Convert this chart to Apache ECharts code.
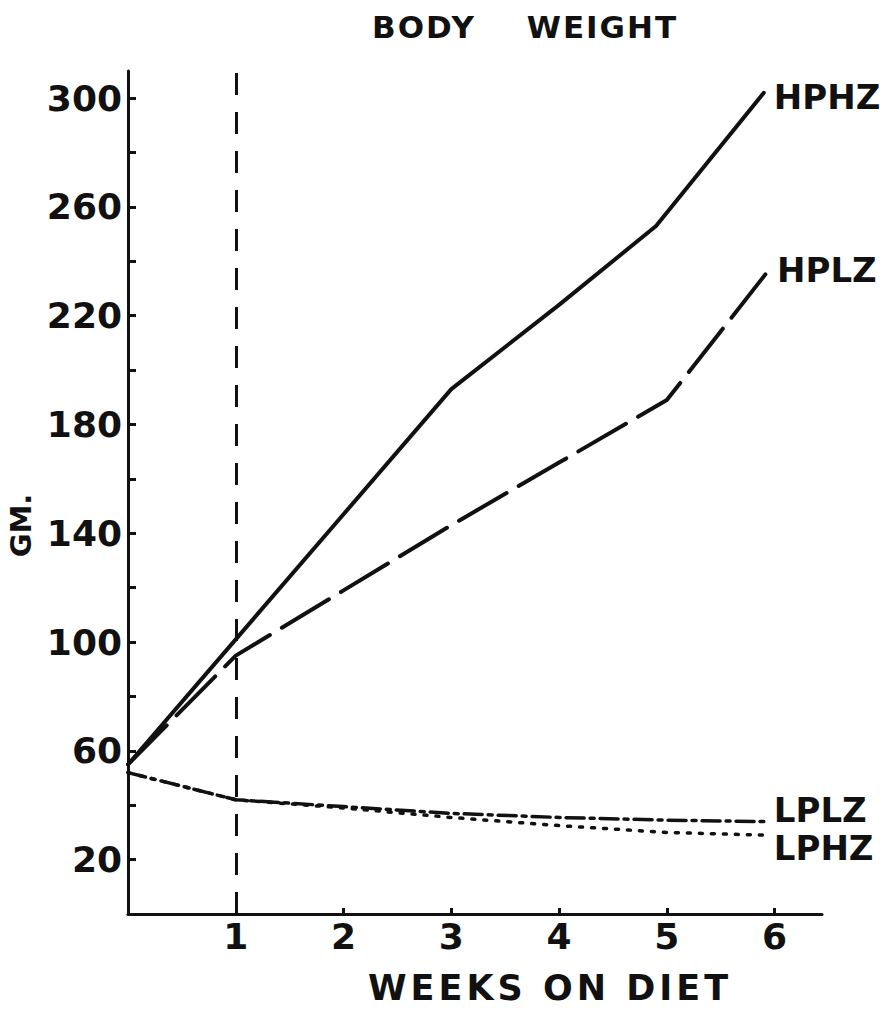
<!DOCTYPE html>
<html>
<head>
<meta charset="utf-8">
<title>Body weight</title>
<script src="https://cdn.jsdelivr.net/npm/echarts@6/dist/echarts.min.js"></script>
<style>
    html, body { margin: 0; padding: 0; background: #fff; }
    #chart { width: 896px; height: 1011px; }
    /* wide lettering of the hand drawn labels */
    #chart text[style*="35px"] { letter-spacing: 4px; }
    #chart text[style*="31px"] { word-spacing: 38px; letter-spacing: 2px; }
</style>
</head>
<body>
<div id="chart"></div>
<script>
// weeks on diet / grams
let hphzWeeks = [0, 1, 2, 3, 4, 4.9, 5.9];
let hphzGm = [55, 101, 147, 193, 224, 253, 302];

let hplzWeeks = [0, 1, 2, 3, 4, 5, 5.93];
let hplzGm = [55, 95, 119, 143, 166, 189, 236];

let lplzWeeks = [0, 1, 2, 3, 4, 5, 5.9];
let lplzGm = [52, 42, 39.5, 37, 35.5, 34.5, 34];

let lphzWeeks = [0, 1, 2, 3, 4, 5, 5.9];
let lphzGm = [52, 42, 39, 35.5, 32.5, 30, 29];

// axis ticks
let weekTicks = [1, 2, 3, 4, 5, 6];
let gmTicks = [20, 40, 60, 80, 100, 120, 140, 160, 180, 200, 220, 240, 260, 280, 300];
let gmLabels = [20, 60, 100, 140, 180, 220, 260, 300];

let ink = '#111';
let font = 'DejaVu Sans';

// one drawn line
let line = (name, weeks, gm, dash, width, labelDy) => {
    return {
        name: name,
        type: 'line',
        showSymbol: false,
        symbol: 'none',
        data: weeks.map((w, i) => [w, gm[i]]),
        lineStyle: { color: ink, width: width, type: dash, cap: 'round' },
        endLabel: {
            show: true,
            formatter: '{a}',
            distance: 10,
            offset: [0, labelDy],
            color: ink,
            fontFamily: font,
            fontWeight: 'bold',
            fontSize: 34,
            lineHeight: 28
        },
        emphasis: { disabled: true }
    };
};

let hphz = line('HPHZ', hphzWeeks, hphzGm, 'solid', 4, 4);
// dashed marker at week 1
hphz.markLine = {
    silent: true,
    symbol: 'none',
    label: { show: false },
    lineStyle: { color: ink, width: 3, type: [22, 17] },
    data: [{ xAxis: 1 }]
};

let option = {
    backgroundColor: '#fff',
    animation: false,
    textStyle: { fontFamily: font, color: ink },
    title: {
        text: 'BODY WEIGHT',
        left: 372,
        top: 11,
        padding: 0,
        textStyle: { fontFamily: font, fontWeight: 'bold', fontSize: 31, color: ink }
    },
    grid: { left: 128, right: 74, top: 71, bottom: 97, outerBoundsMode: 'none' },
    xAxis: {
        type: 'value',
        min: 0,
        max: 6.44,
        interval: 1,
        name: 'WEEKS ON DIET',
        nameLocation: 'middle',
        nameGap: 56,
        nameTextStyle: { fontFamily: font, fontWeight: 'bold', fontSize: 35, color: ink, padding: [0, 0, 0, 150] },
        axisLine: { lineStyle: { color: ink, width: 3 } },
        axisTick: { inside: true, length: 6, lineStyle: { color: ink, width: 3 }, customValues: weekTicks },
        axisLabel: { margin: 4, fontFamily: font, fontWeight: 'bold', fontSize: 36, color: ink, customValues: weekTicks },
        splitLine: { show: false }
    },
    yAxis: {
        type: 'value',
        min: 0,
        max: 310,
        interval: 20,
        name: 'GM.',
        nameLocation: 'middle',
        nameRotate: 90,
        nameGap: 92,
        nameTextStyle: { fontFamily: font, fontWeight: 'bold', fontSize: 29, color: ink, padding: [0, 66, 0, 0] },
        axisLine: { show: true, lineStyle: { color: ink, width: 3 } },
        axisTick: { show: true, inside: true, length: 8, lineStyle: { color: ink, width: 3 }, customValues: gmTicks },
        axisLabel: { margin: 6, fontFamily: font, fontWeight: 'bold', fontSize: 36, color: ink, customValues: gmLabels },
        splitLine: { show: false }
    },
    series: [
        hphz,
        line('HPLZ', hplzWeeks, hplzGm, [55, 14], 4, -2),
        line('LPLZ', lplzWeeks, lplzGm, [18, 6, 4, 6], 3.5, -12),
        line('LPHZ', lphzWeeks, lphzGm, [3, 9], 3.5, 13)
    ]
};

let chart = echarts.init(document.getElementById('chart'), null, { renderer: 'svg' });
chart.setOption(option);
</script>
</body>
</html>
